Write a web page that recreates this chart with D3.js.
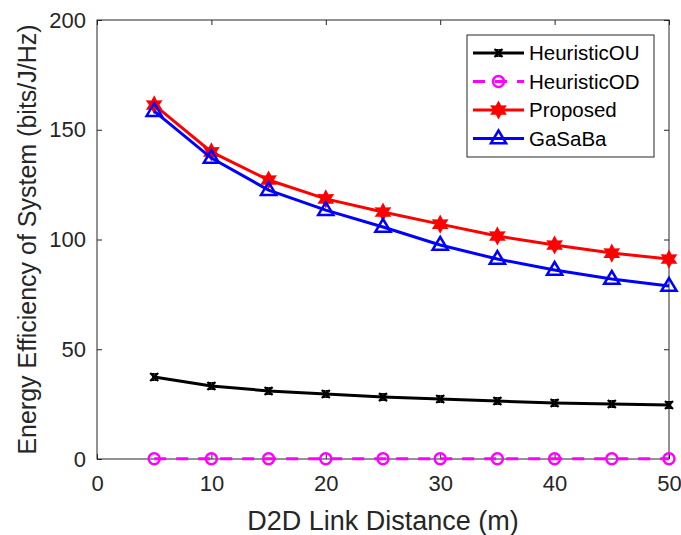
<!DOCTYPE html>
<html><head><meta charset="utf-8">
<script src="https://cdn.jsdelivr.net/npm/d3@7"></script>
<style>body{margin:0;background:#fff}</style>
</head><body>
<svg id="c" width="681" height="535"></svg>
<script>
const distances = [5,10,15,20,25,30,35,40,45,50];
const heuristicOU = [37.4,33.3,31.0,29.6,28.2,27.3,26.4,25.5,25.1,24.6];
const heuristicOD = [0.1,0.1,0.1,0.1,0.1,0.1,0.1,0.1,0.1,0.1];
const proposed = [161.3,139.9,127.1,118.5,112.5,107.0,101.6,97.5,93.8,91.1];
const gasaba = [158.5,137.1,122.5,113.4,105.7,97.5,91.1,86.1,82.0,78.8];
const xTicks = [0,10,20,30,40,50];
const yTicks = [0,50,100,150,200];
const seriesNames = ["HeuristicOU","HeuristicOD","Proposed","GaSaBa"];

const svg = d3.select("#c");
const L=97,R=669,T=20,B=459;
const x = d3.scaleLinear().domain([0,50]).range([L,R]);
const y = d3.scaleLinear().domain([0,200]).range([B,T]);
const font = "'Liberation Sans', Arial, sans-serif";
const tc = "#262626";

svg.append("rect").attr("x",L).attr("y",T).attr("width",R-L).attr("height",B-T)
  .attr("fill","none").attr("stroke",tc).attr("stroke-width",1);

const ax = svg.append("g").attr("transform",`translate(0,${B})`)
  .call(d3.axisBottom(x).tickValues(xTicks).tickSize(-5).tickPadding(16));
const ay = svg.append("g").attr("transform",`translate(${L},0)`)
  .call(d3.axisLeft(y).tickValues(yTicks).tickSize(-5).tickPadding(11));
const axT = svg.append("g").attr("transform",`translate(0,${T})`)
  .call(d3.axisTop(x).tickValues(xTicks).tickSize(-5).tickFormat(""));
const ayR = svg.append("g").attr("transform",`translate(${R},0)`)
  .call(d3.axisRight(y).tickValues(yTicks).tickSize(-5).tickFormat(""));
[ax,ay,axT,ayR].forEach(g=>{
  g.select(".domain").remove();
  g.selectAll("line").attr("stroke",tc);
  g.selectAll("text").attr("fill",tc).style("font-family",font).style("font-size","22px");
});
ax.selectAll("text").attr("dy","0.71em");

svg.append("text").attr("x",(L+R)/2).attr("y",530).attr("text-anchor","middle")
  .attr("fill",tc).style("font-family",font).style("font-size","27px").text("D2D Link Distance (m)");
svg.append("text").attr("transform",`translate(36,${(T+B)/2}) rotate(-90)`).attr("text-anchor","middle")
  .attr("fill",tc).style("font-family",font).style("font-size","25px").text("Energy Efficiency of System (bits/J/Hz)");

const star6 = d3.symbol().type({draw(ctx,size){
  const r=Math.sqrt(size), ri=r*0.55;
  for(let i=0;i<12;i++){const a=-Math.PI/2+i*Math.PI/6, rr=i%2?ri:r;
    const px=rr*Math.cos(a), py=rr*Math.sin(a); i?ctx.lineTo(px,py):ctx.moveTo(px,py);}
  ctx.closePath();}}).size(64);
const tri = d3.symbol().type({draw(ctx,size){
  const r=Math.sqrt(size);
  ctx.moveTo(0,-r); ctx.lineTo(r*0.95,r*0.6); ctx.lineTo(-r*0.95,r*0.6); ctx.closePath();}}).size(64);
const cross = d3.symbol().type({draw(ctx,size){
  const r=Math.sqrt(size);
  ctx.moveTo(-r,-r);ctx.lineTo(r,r);ctx.moveTo(-r,r);ctx.lineTo(r,-r);
  ctx.moveTo(-r*0.3,-r);ctx.lineTo(-r*0.3,r);ctx.moveTo(r*0.3,-r);ctx.lineTo(r*0.3,r);}}).size(16);

const series = [
  {name:seriesNames[0], vals:heuristicOU, color:"#000000", dash:null, marker:"cross"},
  {name:seriesNames[1], vals:heuristicOD, color:"#ff00ff", dash:"12,10", marker:"circle"},
  {name:seriesNames[2], vals:proposed, color:"#ff0000", dash:null, marker:"star"},
  {name:seriesNames[3], vals:gasaba, color:"#0000ff", dash:null, marker:"tri"}
];
function drawMarker(g, m, color, cx, cy){
  if(m==="circle") g.append("circle").attr("cx",cx).attr("cy",cy).attr("r",5.5)
    .attr("fill","none").attr("stroke",color).attr("stroke-width",2.5);
  else if(m==="star") g.append("path").attr("d",star6()).attr("transform",`translate(${cx},${cy})`)
    .attr("fill",color).attr("stroke",color).attr("stroke-width",1.5);
  else if(m==="tri") g.append("path").attr("d",tri()).attr("transform",`translate(${cx},${cy})`)
    .attr("fill","none").attr("stroke",color).attr("stroke-width",2.5);
  else g.append("path").attr("d",cross()).attr("transform",`translate(${cx},${cy})`)
    .attr("fill","none").attr("stroke",color).attr("stroke-width",2.2);
}
const line = d3.line().x((d,i)=>x(distances[i])).y(d=>y(d));
series.forEach(s=>{
  const g = svg.append("g");
  g.append("path").attr("d",line(s.vals)).attr("fill","none").attr("stroke",s.color)
    .attr("stroke-width",3).attr("stroke-dasharray",s.dash);
  s.vals.forEach((v,i)=>drawMarker(g,s.marker,s.color,x(distances[i]),y(v)));
});

const lg = svg.append("g");
lg.append("rect").attr("x",467).attr("y",35).attr("width",187).attr("height",122)
  .attr("fill","#fff").attr("stroke",tc).attr("stroke-width",1);
series.forEach((s,i)=>{
  const yy = 53 + i*28.5;
  lg.append("line").attr("x1",473).attr("x2",524).attr("y1",yy).attr("y2",yy)
    .attr("stroke",s.color).attr("stroke-width",3).attr("stroke-dasharray",s.dash);
  drawMarker(lg,s.marker,s.color,498.5,yy);
  lg.append("text").attr("x",529).attr("y",yy).attr("dy","0.35em").attr("fill","#000")
    .style("font-family",font).style("font-size","20.5px").text(s.name);
});
</script>
</body></html>
